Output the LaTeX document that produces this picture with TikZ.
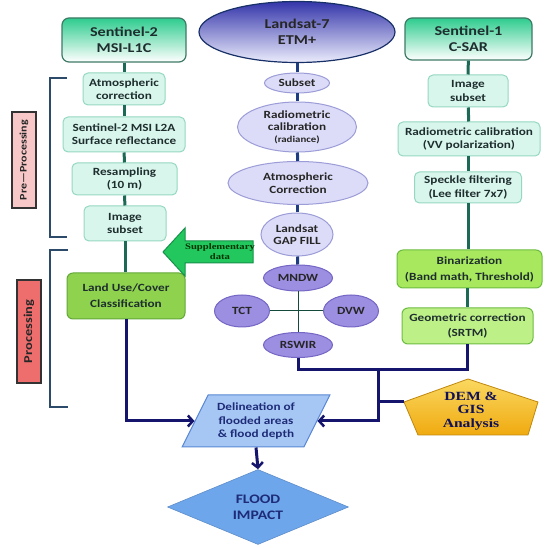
\documentclass[tikz,border=0pt]{standalone}
\usepackage{fontspec}
\setmainfont{Carlito}[FakeStretch=1.2]
\newfontfamily\serifb{Liberation Serif}[FakeStretch=1.25]
\usetikzlibrary{shapes.geometric,arrows.meta}
\definecolor{tgreen}{HTML}{2ECC8E}
\definecolor{tborder}{HTML}{3E7A66}
\definecolor{mint}{HTML}{D8F6EC}
\definecolor{mintb}{HTML}{95D8C0}
\definecolor{lav}{HTML}{DCDCF8}
\definecolor{lavb}{HTML}{9C9CD8}
\definecolor{purp}{HTML}{9C8EE0}
\definecolor{purpb}{HTML}{7466C4}
\definecolor{lugreen}{HTML}{8ED24E}
\definecolor{lub}{HTML}{64A83A}
\definecolor{bingreen}{HTML}{A8E85E}
\definecolor{geogreen}{HTML}{BEF088}
\definecolor{gb}{HTML}{6CBC40}
\definecolor{suppg}{HTML}{22C85E}
\definecolor{suppb}{HTML}{16904A}
\definecolor{delb}{HTML}{A6C6F4}
\definecolor{delbd}{HTML}{5A88D4}
\definecolor{fib}{HTML}{6EA6EC}
\definecolor{gold1}{HTML}{FAD860}
\definecolor{gold2}{HTML}{F0AA10}
\definecolor{tealc}{HTML}{1C6A56}
\definecolor{mblue}{HTML}{1E3C82}
\definecolor{navyc}{HTML}{15156E}
\definecolor{brk}{HTML}{2C4A6A}
\definecolor{pinkc}{HTML}{F8C8C8}
\definecolor{salmonc}{HTML}{EE6E6E}
\definecolor{txt}{HTML}{1E2E2E}
\definecolor{ntxt}{HTML}{1E2C78}
\begin{document}
\begin{tikzpicture}[x=1pt,y=-1pt,
  titlebox/.style={rounded corners=7pt, draw=tborder, line width=1.2pt,
    top color=tgreen, middle color=tgreen!25, bottom color=white, align=center,
    inner sep=0pt, text=txt, font=\bfseries\fontsize{13.5}{16}\selectfont},
  lbox/.style={rounded corners=5pt, draw=mintb, line width=1pt, fill=mint,
    align=center, inner sep=0pt, text=txt, font=\bfseries\fontsize{11}{13.3}\selectfont},
  gbox/.style={rounded corners=6pt, line width=1pt, align=center, inner sep=0pt,
    text=txt, font=\bfseries\fontsize{11}{16}\selectfont},
  lell/.style={ellipse, draw=lavb, line width=1pt, fill=lav, align=center,
    inner sep=0pt, text=black!85, font=\bfseries\fontsize{11}{12.5}\selectfont},
  pell/.style={ellipse, draw=purpb, line width=1pt, fill=purp, align=center,
    inner sep=0pt, text=black!85, font=\bfseries\fontsize{11}{13}\selectfont},
  tealline/.style={draw=tealc, line width=3pt},
  blueline/.style={draw=mblue, line width=3pt},
  thinline/.style={draw=tealc!70!black, line width=1pt},
  navyline/.style={draw=navyc, line width=3pt},
  navyarrow/.style={navyline, -{Straight Barb[length=5pt,width=11pt,line width=2.5pt]}},
  bracket/.style={draw=brk, line width=1.8pt},
  sidelabel/.style={draw=black!80, line width=1.2pt, rotate=90, inner sep=0pt,
    text=black!85}
]
\useasboundingbox[fill=white] (0,0) rectangle (550,548);

% top sources
\node[titlebox, minimum width=124pt, minimum height=44pt] (s2) at (124,40) {Sentinel-2\\MSI-L1C};
\node[ellipse, draw=mblue!80!black, line width=1.2pt, top color={rgb,255:red,52;green,54;blue,170},
  bottom color={rgb,255:red,236;green,236;blue,252}, minimum width=196pt, minimum height=61pt,
  inner sep=0pt, align=center, text=black!85,
  font=\bfseries\fontsize{13.5}{16}\selectfont] (ls) at (297,32) {Landsat-7\\ETM+};
\node[titlebox, minimum width=127pt, minimum height=42pt] (s1) at (468.5,39) {Sentinel-1\\C-SAR};

% left column
\node[lbox, minimum width=82pt, minimum height=32pt] (atm) at (124,89) {Atmospheric\\correction};
\node[lbox, minimum width=122pt, minimum height=35pt] (l2a) at (124,134.5) {Sentinel-2 MSI L2A\\Surface reflectance};
\node[lbox, minimum width=105pt, minimum height=32pt] (res) at (124.5,179) {Resampling\\(10 m)};
\node[lbox, minimum width=82pt, minimum height=35pt] (isub) at (125,223.5) {Image\\subset};
\node[gbox, fill=lugreen, draw=lub, minimum width=118pt, minimum height=46pt] (lu) at (126,296) {Land Use/Cover\\Classification};

% middle column
\node[lell, minimum width=65pt, minimum height=20pt] (sub) at (297,83) {Subset};
\node[lell, minimum width=119pt, minimum height=50pt] (rad) at (297,127) {Radiometric\\calibration\\[-1pt]{\fontsize{9}{10}\selectfont (radiance)}};
\node[lell, minimum width=140pt, minimum height=43pt] (atc) at (298,183) {Atmospheric\\Correction};
\node[lell, minimum width=72pt, minimum height=43pt] (gap) at (297,234.5) {Landsat\\GAP FILL};
\node[pell, minimum width=69pt, minimum height=26pt] (mndw) at (298,278) {MNDW};
\node[pell, minimum width=55pt, minimum height=32pt] (tct) at (242,311) {TCT};
\node[pell, minimum width=55pt, minimum height=32pt] (dvw) at (351,311) {DVW};
\node[pell, minimum width=69pt, minimum height=25pt] (rswir) at (298,345) {RSWIR};

% right column
\node[lbox, minimum width=80pt, minimum height=32pt] (isub2) at (468,91) {Image\\subset};
\node[lbox, minimum width=142pt, minimum height=34pt] (radvv) at (469,139) {Radiometric calibration\\(VV polarization)};
\node[lbox, minimum width=107pt, minimum height=31pt] (spk) at (468,187.5) {Speckle filtering\\(Lee filter 7x7)};
\node[gbox, fill=bingreen, draw=gb, minimum width=145pt, minimum height=38pt] (bin) at (469.5,269) {Binarization\\(Band math, Threshold)};
\node[gbox, fill=geogreen, draw=gb, minimum width=131pt, minimum height=36pt,
  font=\bfseries\fontsize{11}{15}\selectfont] (geo) at (467.5,326) {Geometric correction\\(SRTM)};

% side labels and brackets
\node[sidelabel, fill=pinkc, minimum width=96pt, minimum height=24pt,
  font=\bfseries\fontsize{10}{12}\selectfont] (pre) at (24,160) {Pre—Processing};
\node[sidelabel, fill=salmonc, minimum width=103pt, minimum height=24pt,
  font=\bfseries\fontsize{12}{14}\selectfont] (proc) at (29,331.5) {Processing};
\draw[bracket] (67,78) -- (50,78) -- (50,237) -- (67,237);
\draw[bracket] (68,250) -- (50,250) -- (50,407) -- (68,407);

% supplementary data arrow
\filldraw[fill=suppg, draw=suppb, line width=1pt]
  (163,252) -- (185,228) -- (185,241) -- (253,241) -- (253,263) -- (185,263) -- (185,276) -- cycle;
\node[align=center, text=green!20!black, font=\serifb\bfseries\fontsize{8.5}{10}\selectfont] (supp) at (220,252) {Supplementary\\data};

% delineation, impact, DEM
\node[trapezium, trapezium left angle=60, trapezium right angle=120, trapezium stretches=true,
  minimum width=148pt, minimum height=52pt, inner sep=0pt, fill=delb, draw=delbd, line width=1pt,
  align=center, text=ntxt, font=\bfseries\fontsize{11}{13.5}\selectfont] (del) at (256,421)
  {Delineation of\\flooded areas\\\& flood depth};
\node[diamond, minimum width=181pt, minimum height=71pt, inner sep=0pt, fill=fib, draw=fib!85!black,
  line width=0.6pt, align=center, text=ntxt, font=\bfseries\fontsize{13}{16}\selectfont] (fi) at (258,507)
  {FLOOD\\IMPACT};
\coordinate (demT) at (468,379);
\coordinate (demL) at (404,402);
\coordinate (demR) at (538,402);
\coordinate (demBR) at (528,435);
\coordinate (demBL) at (418,435);
\shade[top color=gold1, bottom color=gold2]
  (demT) -- (demR) -- (demBR) -- (demBL) -- (demL) -- cycle;
\draw[draw=gold2!80!black, line width=0.8pt] (demT) -- (demR) -- (demBR) -- (demBL) -- (demL) -- cycle;
\node[align=center, text=navyc!80!black, font=\serifb\bfseries\fontsize{12.5}{13.5}\selectfont] (dem) at (471,411)
  {DEM \&\\GIS\\Analysis};

% connectors: left column
\draw[tealline] (s2) -- (atm);
\draw[tealline] (atm) -- (l2a);
\draw[tealline] (l2a) -- (res);
\draw[tealline] (res) -- (isub);
\draw[tealline] (isub.south) -- (isub.south |- lu.north);
% middle column
\draw[blueline] (ls) -- (sub);
\draw[blueline] (sub) -- (rad);
\draw[blueline] (rad) -- (atc);
\draw[blueline] (atc.south -| gap.north) -- (gap);
\draw[blueline] (gap) -- (mndw);
\draw[thinline] (mndw) -- (rswir);
\draw[thinline] (tct) -- (dvw);
% right column
\draw[tealline] (s1) -- (isub2);
\draw[tealline] (isub2) -- (radvv);
\draw[tealline] (radvv.south -| spk.north) -- (spk);
\draw[tealline] (spk.south) -- (spk.south |- bin.north);
\draw[tealline] (bin.south -| geo.north) -- (geo);
% lower connectors
\coordinate (j1) at (378,370);
\draw[navyline] (rswir.south) |- (j1) -| (geo.south);
\draw[navyline] (demL) -- (j1 |- demL);
\draw[navyarrow] (j1) |- (del.east);
\draw[navyarrow] (lu.south) |- (del.west);
\draw[navyarrow] (del.south) -- (fi.north);
\end{tikzpicture}
\end{document}
